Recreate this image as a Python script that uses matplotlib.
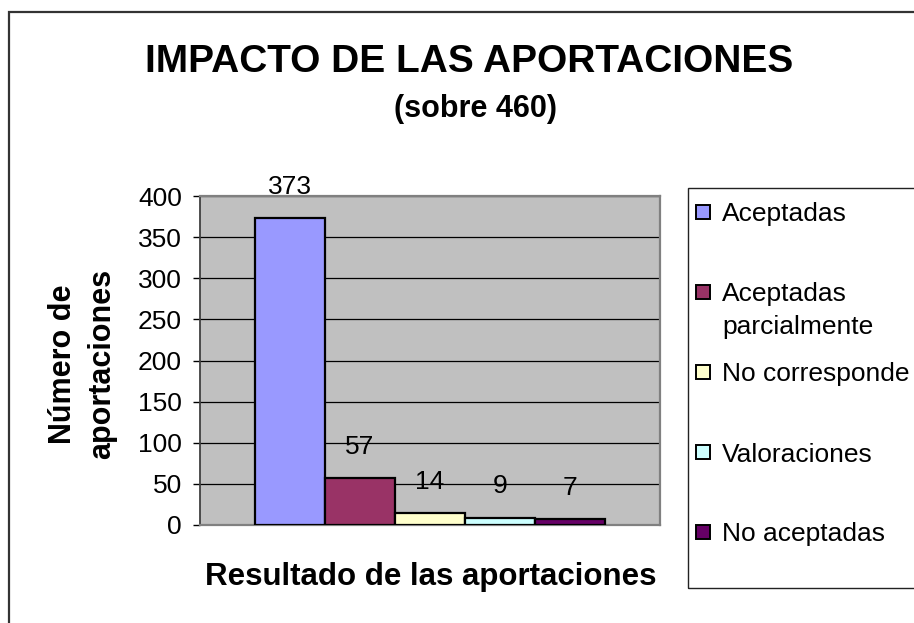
import matplotlib.pyplot as plt
from matplotlib.patches import Rectangle

# data
categorias = ['Aceptadas', 'Aceptadas\nparcialmente', 'No corresponde', 'Valoraciones', 'No aceptadas']
valores = [373, 57, 14, 9, 7]
colores = ['#9999FF', '#993366', '#FFFFCC', '#CCFFFF', '#660066']
yticks = [0, 50, 100, 150, 200, 250, 300, 350, 400]

plt.rcParams['font.family'] = ['Liberation Sans', 'DejaVu Sans']

W, H = 914, 623
fig = plt.figure(figsize=(W / 100, H / 100), dpi=100)

def fx(px):
    return px / W

def fy(py):
    return 1 - py / H

# outer chart border (right/bottom fall outside the picture)
fig.patches.append(Rectangle((fx(8.5), -0.05), 1.0, fy(11.5) + 0.05, transform=fig.transFigure,
                             fill=False, edgecolor='#333333', linewidth=1.6))

ax = fig.add_axes([fx(200), fy(525), fx(460), 329 / H])
ax.set_facecolor('#C0C0C0')

x = list(range(len(valores)))
ax.bar(x, valores, width=1.0, color=colores, edgecolor='black', linewidth=1.6, zorder=3)
for xi, v in zip(x, valores):
    ax.annotate(str(v), (xi, v), xytext=(0, 17.5), textcoords='offset points',
                ha='center', va='baseline', fontsize=19, zorder=4)

ax.set_xlim(-1.28, 5.29)
ax.set_ylim(0, 400)
ax.set_yticks(yticks)
ax.set_xticks([])
ax.yaxis.grid(True, color='black', linewidth=0.9, zorder=1)
ax.tick_params(axis='y', labelsize=19, length=5, width=1, direction='out', pad=8)
for s in ['top', 'right', 'bottom']:
    ax.spines[s].set_color('#808080')
    ax.spines[s].set_linewidth(1.6)
ax.spines['left'].set_color('#404040')
ax.spines['left'].set_linewidth(1.3)

# axis titles
fig.text(fx(83), fy(364), 'Número de\naportaciones', rotation=90, ha='center', va='center',
         multialignment='center', fontsize=22, fontweight='bold', linespacing=1.4)
fig.text(fx(431), fy(585), 'Resultado de las aportaciones', ha='center', va='baseline',
         fontsize=22.5, fontweight='bold')

# chart title
fig.text(fx(469), fy(72), 'IMPACTO DE LAS APORTACIONES', ha='center', va='baseline',
         fontsize=28, fontweight='bold')
fig.text(fx(475), fy(117), '(sobre 460)', ha='center', va='baseline',
         fontsize=22, fontweight='bold')

# legend
fig.patches.append(Rectangle((fx(688), fy(588)), 0.3, 400 / H, transform=fig.transFigure,
                             fill=False, edgecolor='#222222', linewidth=1.0))
ley_y = [212, 292, 372, 452, 532]
for lab, col, yy in zip(categorias, colores, ley_y):
    fig.patches.append(Rectangle((fx(696), fy(yy + 7)), 14 / W, 14 / H,
                                 transform=fig.transFigure, facecolor=col, edgecolor='black',
                                 linewidth=1.4))
    for j, linea in enumerate(lab.split('\n')):
        fig.text(fx(722), fy(yy + 9.5 + 33 * j), linea, ha='left', va='baseline', fontsize=19)

fig.savefig('out.png', dpi=100)
